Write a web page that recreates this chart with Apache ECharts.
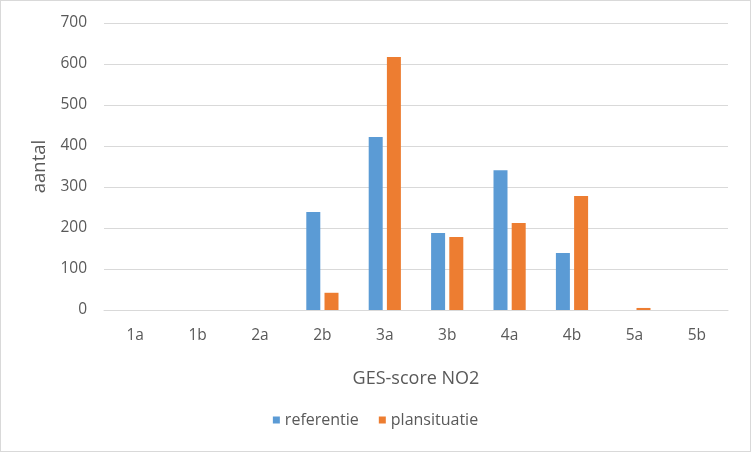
<!DOCTYPE html>
<html>
<head>
<meta charset="utf-8">
<script src="https://cdn.jsdelivr.net/npm/echarts@6/dist/echarts.min.js"></script>
<style>
  html, body { margin: 0; padding: 0; background: #fff; }
  #chart { width: 749px; height: 450px; border: 1px solid #d9d9d9; }
</style>
</head>
<body>
<div id="chart"></div>
<script>
// categorieen en waarden
var categories = ['1a', '1b', '2a', '2b', '3a', '3b', '4a', '4b', '5a', '5b'];
var referentie = [0, 0, 0, 239, 422, 188, 341, 139, 0, 0];
var plansituatie = [0, 0, 0, 42, 617, 178, 212, 278, 5, 0];
var yTicks = { min: 0, max: 700, interval: 100 };

var myChart = echarts.init(document.getElementById('chart'));

var textColor = '#595959';
var font = 'Open Sans';

var option = {
  animation: false,
  textStyle: { fontFamily: font, color: textColor },
  grid: { left: 103, right: 22, top: 22, bottom: 141, containLabel: false },
  legend: {
    bottom: 18,
    left: 'center',
    itemWidth: 7,
    itemHeight: 7,
    itemGap: 20,
    icon: 'rect',
    textStyle: { fontSize: 16, color: textColor, fontFamily: font },
    data: ['referentie', 'plansituatie']
  },
  xAxis: {
    type: 'category',
    data: categories,
    name: 'GES-score NO2',
    nameLocation: 'middle',
    nameGap: 60,
    nameTextStyle: { fontSize: 18, color: textColor },
    axisLine: { lineStyle: { color: '#d9d9d9' } },
    axisTick: { show: false },
    axisLabel: { fontSize: 15.5, color: textColor, margin: 18 }
  },
  yAxis: {
    type: 'value',
    min: yTicks.min,
    max: yTicks.max,
    interval: yTicks.interval,
    name: 'aantal',
    nameLocation: 'middle',
    nameGap: 54,
    nameRotate: 90,
    nameTextStyle: { fontSize: 18.5, color: textColor },
    axisLine: { show: false },
    axisTick: { show: false },
    axisLabel: { fontSize: 15.5, color: textColor, margin: 17 },
    splitLine: { lineStyle: { color: '#d9d9d9', width: 1 } }
  },
  series: [
    {
      name: 'referentie',
      type: 'bar',
      data: referentie,
      barWidth: 14,
      barGap: '30%',
      itemStyle: { color: '#5b9bd5' }
    },
    {
      name: 'plansituatie',
      type: 'bar',
      data: plansituatie,
      barWidth: 14,
      barGap: '30%',
      itemStyle: { color: '#ed7d31' }
    }
  ]
};

myChart.setOption(option);
</script>
</body>
</html>
